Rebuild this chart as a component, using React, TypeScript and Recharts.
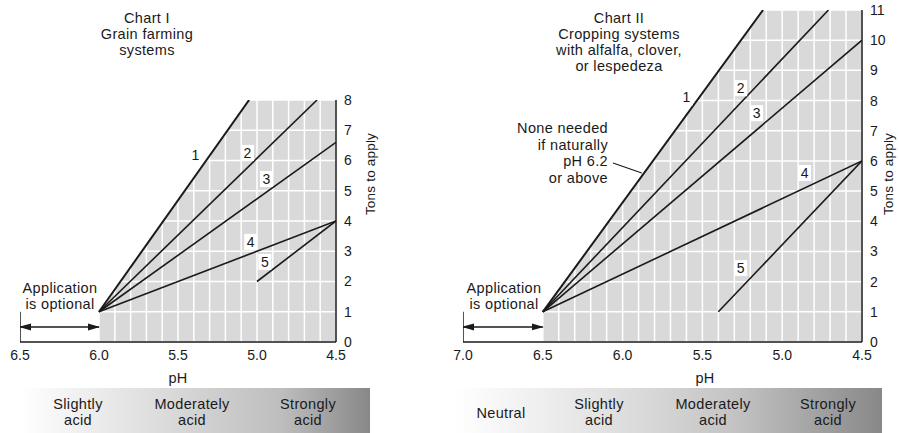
import React from 'react';
import { ComposedChart, Line, Area, Scatter, XAxis, YAxis, CartesianGrid } from 'recharts';

// Chart I — grain farming systems (pH → tons of limestone)
const c1Line1 = [{ ph: 6.0, t: 1 }, { ph: 5.05, t: 8 }];
const c1Line2 = [{ ph: 6.0, t: 1 }, { ph: 4.62, t: 8 }];
const c1Line3 = [{ ph: 6.0, t: 1 }, { ph: 4.5, t: 6.6 }];
const c1Line4 = [{ ph: 6.0, t: 1 }, { ph: 4.5, t: 4 }];
const c1Line5 = [{ ph: 5.0, t: 2 }, { ph: 4.5, t: 4 }];
const c1Labels = [
  { ph: 5.39, t: 6.18, label: '1' },
  { ph: 5.06, t: 6.25, label: '2' },
  { ph: 4.94, t: 5.39, label: '3' },
  { ph: 5.04, t: 3.31, label: '4' },
  { ph: 4.95, t: 2.65, label: '5' },
];
const c1PhTicks = [6.5, 6.0, 5.5, 5.0, 4.5];
const c1TonTicks = [0, 1, 2, 3, 4, 5, 6, 7, 8];
const c1Optional = [{ ph: 6.5, t: 0.5 }, { ph: 6.0, t: 0.5 }];
const c1OptionalTick = [{ ph: 6.5, t: 0 }, { ph: 6.5, t: 1 }];
const c1Band = ['Slightly\nacid', 'Moderately\nacid', 'Strongly\nacid'];

// Chart II — cropping systems with alfalfa, clover, or lespedeza
const c2Line1 = [{ ph: 6.5, t: 1 }, { ph: 5.12, t: 11 }];
const c2Line2 = [{ ph: 6.5, t: 1 }, { ph: 4.71, t: 11 }];
const c2Line3 = [{ ph: 6.5, t: 1 }, { ph: 4.5, t: 10 }];
const c2Line4 = [{ ph: 6.5, t: 1 }, { ph: 4.5, t: 6 }];
const c2Line5 = [{ ph: 5.4, t: 1 }, { ph: 4.5, t: 6 }];
const c2Labels = [
  { ph: 5.6, t: 8.11, label: '1' },
  { ph: 5.26, t: 8.41, label: '2' },
  { ph: 5.16, t: 7.58, label: '3' },
  { ph: 4.86, t: 5.6, label: '4' },
  { ph: 5.26, t: 2.45, label: '5' },
];
const c2PhTicks = [7.0, 6.5, 6.0, 5.5, 5.0, 4.5];
const c2TonTicks = [0, 1, 2, 3, 4, 5, 6, 7, 8, 9, 10, 11];
const c2Optional = [{ ph: 7.0, t: 0.5 }, { ph: 6.5, t: 0.5 }];
const c2OptionalTick = [{ ph: 7.0, t: 0 }, { ph: 7.0, t: 1 }];
const c2Pointer = [{ ph: 6.06, t: 5.93 }, { ph: 5.88, t: 5.6 }];
const c2Band = ['Neutral', 'Slightly\nacid', 'Moderately\nacid', 'Strongly\nacid'];

const FONT = '"Liberation Sans", Arial, sans-serif';
const INK = '#1a1a1a';
const GREY = '#d9d9d9';

// grid lines every 0.1 pH
const gridSteps = (from: number, to: number) => {
  const out: number[] = [];
  for (let v = Math.round(to * 10); v <= Math.round(from * 10); v++) out.push(v / 10);
  return out;
};

// white mask over everything left of / above curve 1, so the grey only shows beneath it
const maskData = (left: number, line1: { ph: number; t: number }[], top: number) => [
  { ph: left, r: [0, top] },
  { ph: line1[0].ph, r: [0, top] },
  { ph: line1[0].ph, r: [line1[0].t, top] },
  { ph: line1[1].ph, r: [line1[1].t, top] },
];

const NumberBox = (props: any) => {
  const { cx, cy, payload } = props;
  return (
    <g>
      <rect x={cx - 6.5} y={cy - 8} width={13} height={16} fill="#fff" />
      <text x={cx} y={cy + 5} textAnchor="middle" fontSize={14} fontFamily={FONT} fill={INK}>
        {payload.label}
      </text>
    </g>
  );
};

interface PanelProps {
  width: number;
  top: number;
  left: number;
  right: number;
  yWidth: number;
  phTicks: number[];
  tonTicks: number[];
  lines: { ph: number; t: number }[][];
  labels: { ph: number; t: number; label: string }[];
  optional: { ph: number; t: number }[];
  optionalTick: { ph: number; t: number }[];
  pointer?: { ph: number; t: number }[];
}

function Panel(p: PanelProps) {
  const phMax = p.phTicks[0];
  const phMin = p.phTicks[p.phTicks.length - 1];
  const tMax = p.tonTicks[p.tonTicks.length - 1];
  const steps = gridSteps(phMax, phMin);
  return (
    <ComposedChart
      width={p.width}
      height={433}
      margin={{ top: p.top, right: p.right, bottom: 61, left: p.left }}
    >
      <CartesianGrid
        fill={GREY}
        fillOpacity={1}
        stroke="#fff"
        strokeWidth={1.5}
        vertical={false}
        horizontalValues={p.tonTicks}
      />
      <XAxis
        type="number"
        dataKey="ph"
        domain={[phMin, phMax]}
        reversed
        allowDataOverflow
        ticks={p.phTicks}
        tickFormatter={(v) => v.toFixed(1)}
        axisLine={{ stroke: INK, strokeWidth: 1.5 }}
        tickLine={false}
        tick={{ fill: INK, fontSize: 14, fontFamily: FONT }}
        height={30}
      />
      <YAxis
        orientation="right"
        type="number"
        domain={[0, tMax]}
        allowDataOverflow
        ticks={p.tonTicks}
        axisLine={{ stroke: INK, strokeWidth: 1.5 }}
        tickLine={false}
        tick={{ fill: INK, fontSize: 14, fontFamily: FONT, textAnchor: 'start' }}
        width={p.yWidth}
      />
      <Area
        data={maskData(phMax, p.lines[0], tMax)}
        dataKey="r"
        type="linear"
        fill="#fff"
        fillOpacity={1}
        stroke="none"
        isAnimationActive={false}
      />
      {/* vertical white grid lines, 0.1 pH apart (white on the mask, so only visible on grey) */}
      {steps.map((v) => (
        <Line
          key={'g' + v}
          data={[{ ph: v, t: 0 }, { ph: v, t: tMax }]}
          dataKey="t"
          stroke="#fff"
          strokeWidth={1.5}
          dot={false}
          activeDot={false}
          isAnimationActive={false}
        />
      ))}
      {p.lines.map((d, i) => (
        <Line
          key={i}
          data={d}
          dataKey="t"
          type="linear"
          stroke={INK}
          strokeWidth={i === 0 ? 2 : 1.6}
          dot={false}
          activeDot={false}
          isAnimationActive={false}
        />
      ))}
      <Line
        data={p.optionalTick}
        dataKey="t"
        stroke={INK}
        strokeWidth={1.5}
        dot={false}
        activeDot={false}
        isAnimationActive={false}
      />
      <Line
        data={p.optional}
        dataKey="t"
        stroke={INK}
        strokeWidth={1.5}
        dot={false}
        activeDot={false}
        markerStart="url(#arrowHead)"
        markerEnd="url(#arrowHead)"
        isAnimationActive={false}
      />
      {p.pointer && (
        <Line
          data={p.pointer}
          dataKey="t"
          stroke={INK}
          strokeWidth={1.2}
          dot={false}
          activeDot={false}
          isAnimationActive={false}
        />
      )}
      <Scatter data={p.labels} dataKey="t" shape={NumberBox} isAnimationActive={false} />
    </ComposedChart>
  );
}

const txt: React.CSSProperties = {
  position: 'absolute',
  fontFamily: FONT,
  fontSize: 14.5,
  letterSpacing: '0.35px',
  lineHeight: '16px',
  color: INK,
  textAlign: 'center',
  whiteSpace: 'pre',
};

const centered = (x: number, y: number, s: string, extra: React.CSSProperties = {}) => (
  <div key={s + x} style={{ ...txt, left: x, top: y, transform: 'translate(-50%, -50%)', ...extra }}>{s}</div>
);

const rotated: React.CSSProperties = {
  transform: 'translate(-50%, -50%) rotate(-90deg)',
  fontSize: 13.5,
  letterSpacing: '0.2px',
};

export default function App() {
  const band1X = [78, 192, 308];
  const band2X = [501, 599, 713, 828];
  return (
    <div style={{ position: 'absolute', left: 0, top: 0, width: 899, height: 433, background: '#fff', overflow: 'hidden' }}>
      <svg width={0} height={0} style={{ position: 'absolute' }}>
        <defs>
          <marker
            id="arrowHead"
            markerWidth={12}
            markerHeight={8}
            refX={11}
            refY={4}
            orient="auto-start-reverse"
            markerUnits="userSpaceOnUse"
          >
            <path d="M0,0.5 L12,4 L0,7.5 z" fill={INK} />
          </marker>
        </defs>
      </svg>

      {/* bottom pH bands */}
      <div style={{ position: 'absolute', left: 20, top: 388, width: 350, height: 45, background: 'linear-gradient(to right, #ffffff 0%, #dcdcdc 40%, #bdbdbd 75%, #888888 100%)' }} />
      <div style={{ position: 'absolute', left: 455, top: 388, width: 427, height: 45, background: 'linear-gradient(to right, #ffffff 0%, #e2e2e2 35%, #c4c4c4 65%, #888888 100%)' }} />

      <div style={{ position: 'absolute', left: 0, top: 0 }}>
        <Panel
          width={400}
          top={100}
          left={20}
          right={24}
          yWidth={40}
          phTicks={c1PhTicks}
          tonTicks={c1TonTicks}
          lines={[c1Line1, c1Line2, c1Line3, c1Line4, c1Line5]}
          labels={c1Labels}
          optional={c1Optional}
          optionalTick={c1OptionalTick}
        />
      </div>
      <div style={{ position: 'absolute', left: 420, top: 0 }}>
        <Panel
          width={479}
          top={10}
          left={43}
          right={2}
          yWidth={35}
          phTicks={c2PhTicks}
          tonTicks={c2TonTicks}
          lines={[c2Line1, c2Line2, c2Line3, c2Line4, c2Line5]}
          labels={c2Labels}
          optional={c2Optional}
          optionalTick={c2OptionalTick}
          pointer={c2Pointer}
        />
      </div>

      {/* titles */}
      {centered(147, 34, 'Chart I\nGrain farming\nsystems')}
      {centered(619, 42, 'Chart II\nCropping systems\nwith alfalfa, clover,\nor lespedeza')}

      {/* annotations */}
      {centered(60, 296, 'Application\nis optional')}
      {centered(504, 296, 'Application\nis optional')}
      <div style={{ ...txt, right: 899 - 608, top: 120, textAlign: 'right', lineHeight: '16.7px' }}>
        {'None needed\nif naturally\npH 6.2\nor above'}
      </div>

      {/* axis titles */}
      {centered(178, 378, 'pH')}
      {centered(705, 378, 'pH')}
      {centered(371, 174, 'Tons to apply', rotated)}
      {centered(889, 174, 'Tons to apply', rotated)}

      {/* band labels */}
      {c1Band.map((s, i) => centered(band1X[i], 412, s))}
      {c2Band.map((s, i) => centered(band2X[i], s.includes('\n') ? 412 : 413, s))}
    </div>
  );
}
